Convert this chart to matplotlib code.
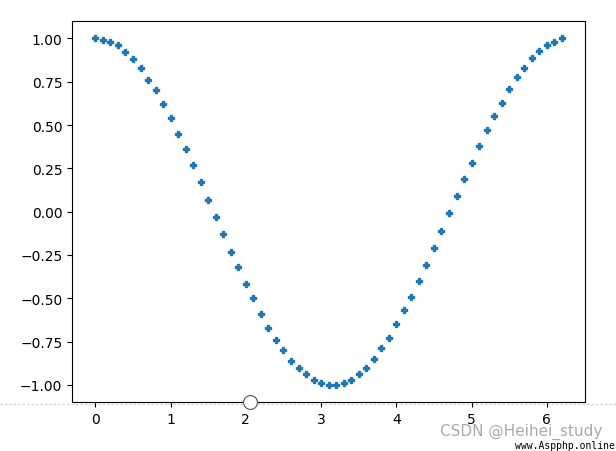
from matplotlib import pyplot as plt
from matplotlib.lines import Line2D

# Data (cosine-shaped curve, 0.1 steps)
x_vals = [0.0, 0.1, 0.2, 0.3, 0.4, 0.5, 0.6, 0.7, 0.8, 0.9,
          1.0, 1.1, 1.2, 1.3, 1.4, 1.5, 1.6, 1.7, 1.8, 1.9,
          2.0, 2.1, 2.2, 2.3, 2.4, 2.5, 2.6, 2.7, 2.8, 2.9,
          3.0, 3.1, 3.2, 3.3, 3.4, 3.5, 3.6, 3.7, 3.8, 3.9,
          4.0, 4.1, 4.2, 4.3, 4.4, 4.5, 4.6, 4.7, 4.8, 4.9,
          5.0, 5.1, 5.2, 5.3, 5.4, 5.5, 5.6, 5.7, 5.8, 5.9,
          6.0, 6.1, 6.2]
y_vals = [1.00, 0.99, 0.98, 0.96, 0.92, 0.88, 0.83, 0.76, 0.70, 0.62,
          0.54, 0.45, 0.36, 0.27, 0.17, 0.07, -0.03, -0.13, -0.23, -0.32,
          -0.42, -0.50, -0.59, -0.67, -0.74, -0.80, -0.86, -0.90, -0.94, -0.97,
          -0.99, -1.00, -1.00, -0.99, -0.97, -0.94, -0.90, -0.85, -0.79, -0.73,
          -0.65, -0.57, -0.49, -0.40, -0.31, -0.21, -0.11, -0.01, 0.09, 0.19,
          0.28, 0.38, 0.47, 0.55, 0.63, 0.71, 0.78, 0.83, 0.89, 0.93,
          0.96, 0.98, 1.00]
knob_x = 2.05

fig = plt.figure(figsize=(6.16, 4.52), dpi=100)
ax = fig.add_axes([0.117, 0.108, 0.833, 0.843])
ax.plot(x_vals, y_vals, 'P', color='#1f77b4', markersize=4.5, linestyle='none')
ax.set_ylim(-1.1, 1.1)
ax.set_yticks([-1.0, -0.75, -0.5, -0.25, 0.0, 0.25, 0.5, 0.75, 1.0])

# dotted line across the page and the round knob on the bottom spine
fig.add_artist(Line2D([0, 1], [0.105, 0.105], transform=fig.transFigure,
                      color='#cccccc', linestyle=(0, (2, 2)), linewidth=0.8, zorder=0))
ax.plot([knob_x], [-1.1], 'o', markersize=10, markerfacecolor='white',
        markeredgecolor='#555555', markeredgewidth=0.8, clip_on=False, zorder=5)

# watermarks
fig.text(0.978, 0.044, 'CSDN @Heihei_study', ha='right', va='center',
         fontsize=11, color='#aaaaaa')
fig.text(0.998, 0.013, 'www.Aspphp.online', ha='right', va='center',
         fontsize=7, color='black', family='monospace')

fig.savefig('out.png', dpi=100)
